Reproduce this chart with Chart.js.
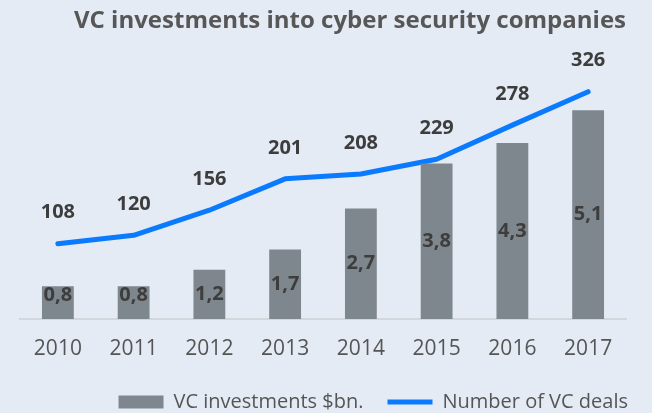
<!DOCTYPE html>
<html>
<head>
<meta charset="utf-8">
<script src="https://cdn.jsdelivr.net/npm/chart.js@4"></script>
<style>
  html, body { margin: 0; padding: 0; background: #e4ebf5; }
  #wrap { width: 652px; height: 413px; position: relative; }
</style>
</head>
<body>
<div id="wrap"><canvas id="vcChart"></canvas></div>
<script>
// Chart data
const years = ["2010", "2011", "2012", "2013", "2014", "2015", "2016", "2017"];
const investments = [0.8, 0.8, 1.2, 1.7, 2.7, 3.8, 4.3, 5.1];
const deals = [108, 120, 156, 201, 208, 229, 278, 326];

const COLORS = {
  bar: "#7e878d",
  line: "#0a7aff",
  title: "#575757",
  text: "#555555",
  label: "#3d3d3d",
  axis: "#d3d6db",
};

const FONT = "'Open Sans', sans-serif";

// Draw value labels: inside bars, above the line points
const valueLabels = {
  id: "valueLabels",
  afterDatasetsDraw(chart) {
    const { ctx } = chart;
    ctx.save();
    ctx.fillStyle = COLORS.label;
    ctx.textAlign = "center";
    ctx.textBaseline = "middle";
    ctx.font = `bold 20px ${FONT}`;
    chart.data.datasets.forEach((ds, i) => {
      const meta = chart.getDatasetMeta(i);
      meta.data.forEach((el, j) => {
        const value = ds.data[j];
        if (meta.type === "bar") {
          const mid = (el.y + el.base) / 2;
          const y = Math.min(mid, el.base - 24);
          ctx.fillText(String(value).replace(".", ","), el.x, y);
        } else {
          ctx.fillText(String(value), el.x, el.y - 31);
        }
      });
    });
    ctx.restore();
  },
};

const ctx = document.getElementById("vcChart").getContext("2d");

new Chart(ctx, {
  type: "bar",
  data: {
    labels: years,
    datasets: [
      {
        label: "VC investments $bn.",
        data: investments,
        backgroundColor: COLORS.bar,
        borderWidth: 0,
        barPercentage: 0.42,
        categoryPercentage: 1,
        pointStyle: "rect",
        yAxisID: "y",
      },
      {
        type: "line",
        label: "Number of VC deals",
        data: deals,
        borderColor: COLORS.line,
        backgroundColor: COLORS.line,
        borderWidth: 5,
        borderCapStyle: "round",
        borderJoinStyle: "round",
        pointRadius: 0,
        pointStyle: "line",
        tension: 0,
        fill: false,
        yAxisID: "y1",
      },
    ],
  },
  options: {
    responsive: true,
    maintainAspectRatio: false,
    animation: false,
    layout: { padding: { left: 20, right: 0, top: 0, bottom: -9 } },
    scales: {
      x: {
        grid: { display: false, drawTicks: false },
        border: { display: true, color: COLORS.axis, width: 2 },
        ticks: {
          color: COLORS.text,
          padding: 17,
          font: { family: FONT, size: 21 },
        },
        afterFit: (scale) => {
          scale.height = 49;
        },
      },
      y: {
        display: false,
        min: 0,
        max: 6.3,
      },
      y1: {
        position: "right",
        display: true,
        min: 0,
        max: 370,
        grid: { display: false },
        border: { display: false },
        ticks: { display: false },
        afterFit: (scale) => {
          scale.width = 26;
        },
      },
    },
    plugins: {
      title: {
        display: true,
        text: "VC investments into cyber security companies",
        align: "end",
        fullSize: false,
        color: COLORS.title,
        font: { family: FONT, size: 24, weight: "bold" },
        padding: { top: 7, bottom: 25.2 },
      },
      legend: {
        position: "bottom",
        align: "end",
        labels: {
          usePointStyle: true,
          pointStyleWidth: 45,
          boxHeight: 13,
          padding: 24,
          color: COLORS.text,
          font: { family: FONT, size: 20 },
        },
      },
      tooltip: { enabled: false },
    },
  },
  plugins: [valueLabels],
});
</script>
</body>
</html>
